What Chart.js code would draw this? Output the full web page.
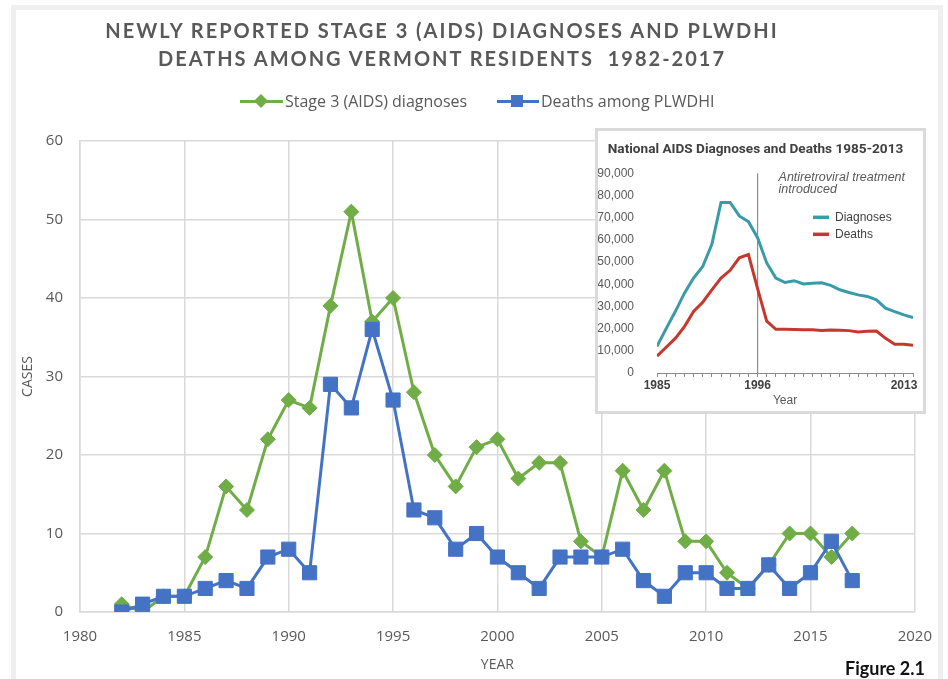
<!DOCTYPE html>
<html>
<head>
<meta charset="utf-8">
<script src="https://cdn.jsdelivr.net/npm/chart.js@4.4.1/dist/chart.umd.min.js"></script>
<style>
  html, body { margin: 0; padding: 0; background: #fff; }
  #wrap { position: relative; width: 948px; height: 679px; overflow: hidden; }
  #frame { position: absolute; left: 11px; top: 5px; width: 932px; height: 700px; border: 5px solid #efefef; box-sizing: border-box; }
  #mainChart { position: absolute; left: 0; top: 0; }
  #title { position: absolute; left: 0; top: 16px; width: 884px; text-align: center; font: 700 20px Lato, sans-serif; letter-spacing: 2px; line-height: 28px; color: #595959; white-space: pre; }
  .legLine { position: absolute; height: 3px; }
  .legText { position: absolute; top: 91px; font: 16px "Open Sans", sans-serif; line-height: 20px; color: #595959; white-space: nowrap; }
  #inset { position: absolute; left: 595px; top: 128px; width: 331px; height: 286px; border: 3px solid #dadada; box-sizing: border-box; background: #fff; }
  #insetChart { position: absolute; left: 0; top: 0; }
  #figure { position: absolute; left: 845px; top: 657px; font: 700 18px Lato, sans-serif; line-height: 22px; color: #111; }
</style>
</head>
<body>
<div id="wrap">
  <div id="frame"></div>
  <canvas id="mainChart" width="948" height="679"></canvas>
  <div id="title">NEWLY REPORTED STAGE 3 (AIDS) DIAGNOSES AND PLWDHI
DEATHS AMONG VERMONT RESIDENTS  1982-2017</div>

  <!-- légende du graphique principal -->
  <div class="legLine" style="left:240px; top:99.5px; width:43px; background:#70AD47"></div>
  <div style="position:absolute; left:256px; top:96px; width:10px; height:10px; background:#70AD47; transform:rotate(45deg)"></div>
  <div class="legText" style="left:285px">Stage 3 (AIDS) diagnoses</div>
  <div class="legLine" style="left:497px; top:99.5px; width:42px; background:#4472C4"></div>
  <div style="position:absolute; left:511px; top:95px; width:12px; height:12px; background:#4472C4"></div>
  <div class="legText" style="left:541px">Deaths among PLWDHI</div>

  <div id="inset"><canvas id="insetChart" width="325" height="280"></canvas></div>
  <div id="figure">Figure 2.1</div>
</div>

<script>
// Données Vermont 1982-2017
const years = [1982, 1983, 1984, 1985, 1986, 1987, 1988, 1989, 1990, 1991, 1992, 1993,
  1994, 1995, 1996, 1997, 1998, 1999, 2000, 2001, 2002, 2003, 2004, 2005,
  2006, 2007, 2008, 2009, 2010, 2011, 2012, 2013, 2014, 2015, 2016, 2017];
const stage3Diagnoses = [1, 0, 2, 2, 7, 16, 13, 22, 27, 26, 39, 51,
  37, 40, 28, 20, 16, 21, 22, 17, 19, 19, 9, 7,
  18, 13, 18, 9, 9, 5, 3, 6, 10, 10, 7, 10];
const deathsPlwdhi = [0, 1, 2, 2, 3, 4, 3, 7, 8, 5, 29, 26,
  36, 27, 13, 12, 8, 10, 7, 5, 3, 7, 7, 7,
  8, 4, 2, 5, 5, 3, 3, 6, 3, 5, 9, 4];
const yearTicks = [1980, 1985, 1990, 1995, 2000, 2005, 2010, 2015, 2020];
const caseTicks = [0, 10, 20, 30, 40, 50, 60];

// Données nationales (encart) 1985-2013
const nationalYears = [1985, 1986, 1987, 1988, 1989, 1990, 1991, 1992, 1993, 1994,
  1995, 1996, 1997, 1998, 1999, 2000, 2001, 2002, 2003, 2004,
  2005, 2006, 2007, 2008, 2009, 2010, 2011, 2012, 2013];
const nationalDiagnoses = [12000, 20000, 27700, 36000, 42800, 48000, 58000, 76900, 76900, 70800,
  68200, 61000, 49600, 42800, 40800, 41600, 40100, 40500, 40700, 39500,
  37500, 36300, 35200, 34500, 33000, 29200, 27700, 26200, 25000];
const nationalDeaths = [7600, 11600, 15600, 20900, 27700, 31900, 37500, 42800, 46300, 51900,
  53400, 38000, 23400, 19700, 19700, 19600, 19500, 19500, 19200, 19400,
  19300, 19100, 18500, 18800, 18900, 15600, 13000, 13000, 12500];
const nationalYearLabels = [1985, 1996, 2013];
const nationalTicks = [0, 10000, 20000, 30000, 40000, 50000, 60000, 70000, 80000, 90000];
const treatmentYear = 1996;

const grey = '#595959';
const gridColor = '#d9d9d9';

function toPoints(xs, ys) {
  return xs.map((x, i) => ({ x: x, y: ys[i] }));
}

// Graphique principal
new Chart(document.getElementById('mainChart'), {
  type: 'line',
  data: {
    datasets: [{
      label: 'Stage 3 (AIDS) diagnoses',
      data: toPoints(years, stage3Diagnoses),
      borderColor: '#70AD47',
      backgroundColor: '#70AD47',
      borderWidth: 3,
      pointStyle: 'rectRot',
      pointRadius: 7.5,
      pointBorderWidth: 1,
      order: 1
    }, {
      label: 'Deaths among PLWDHI',
      data: toPoints(years, deathsPlwdhi),
      borderColor: '#4472C4',
      backgroundColor: '#4472C4',
      borderWidth: 3,
      pointStyle: 'rect',
      pointRadius: 10,
      pointBorderWidth: 1,
      order: 0
    }]
  },
  options: {
    responsive: false,
    animation: false,
    devicePixelRatio: 1,
    layout: { padding: { top: 141, right: 33, bottom: 0, left: 0 }, autoPadding: false },
    plugins: { legend: { display: false }, tooltip: { enabled: false } },
    scales: {
      x: {
        type: 'linear', min: 1980, max: 2020,
        afterBuildTicks: s => { s.ticks = yearTicks.map(v => ({ value: v })); },
        afterFit: s => { s.height = 67; },
        grid: { color: gridColor, lineWidth: 1.5, drawTicks: false },
        border: { color: gridColor, width: 1.5 },
        ticks: { color: grey, font: { family: 'Open Sans', size: 15 }, padding: 16, maxRotation: 0, autoSkip: false, callback: v => String(v) },
        title: { display: true, text: 'YEAR', color: grey, font: { family: 'Open Sans', size: 14 }, padding: { top: 0, bottom: 6 } }
      },
      y: {
        min: 0, max: 60,
        afterBuildTicks: s => { s.ticks = caseTicks.map(v => ({ value: v })); },
        afterFit: s => { s.width = 80; },
        grid: { color: gridColor, lineWidth: 1.5, drawTicks: false },
        border: { color: gridColor, width: 1.5 },
        ticks: { color: grey, font: { family: 'Open Sans', size: 15 }, padding: 17, callback: v => String(v) },
        title: { display: true, text: 'CASES', color: grey, font: { family: 'Open Sans', size: 14 }, padding: { top: 20, bottom: 0 } }
      }
    }
  }
});

// Ligne verticale, annotation et légende de l'encart
const insetDecor = {
  id: 'insetDecor',
  beforeDatasetsDraw(chart) {
    const { ctx, scales: { x, y } } = chart;
    const xp = x.getPixelForValue(treatmentYear);
    ctx.save();
    ctx.strokeStyle = '#8c8c8c';
    ctx.lineWidth = 1.2;
    ctx.beginPath();
    ctx.moveTo(xp, y.getPixelForValue(90000));
    ctx.lineTo(xp, y.bottom);
    ctx.stroke();
    ctx.restore();
  },
  afterDatasetsDraw(chart) {
    const { ctx, chartArea, scales: { x } } = chart;
    const xp = x.getPixelForValue(treatmentYear);
    ctx.save();
    ctx.fillStyle = grey;
    ctx.textBaseline = 'middle';
    ctx.font = 'italic 12.5px "Liberation Sans"';
    ctx.fillText('Antiretroviral treatment', xp + 21, chartArea.top + 4);
    ctx.fillText('introduced', xp + 21, chartArea.top + 16);

    const items = [['Diagnoses', '#3A9BA8'], ['Deaths', '#C6372C']];
    ctx.font = '12px "Liberation Sans"';
    items.forEach((it, i) => {
      const ly = chartArea.top + 44 + i * 17;
      ctx.strokeStyle = it[1];
      ctx.lineWidth = 3.5;
      ctx.beginPath();
      ctx.moveTo(chartArea.left + 156, ly);
      ctx.lineTo(chartArea.left + 172, ly);
      ctx.stroke();
      ctx.fillStyle = '#404040';
      ctx.fillText(it[0], chartArea.left + 178, ly);
    });
    ctx.restore();
  }
};

new Chart(document.getElementById('insetChart'), {
  type: 'line',
  data: {
    datasets: [{
      label: 'Diagnoses',
      data: toPoints(nationalYears, nationalDiagnoses),
      borderColor: '#3A9BA8',
      borderWidth: 3,
      pointRadius: 0
    }, {
      label: 'Deaths',
      data: toPoints(nationalYears, nationalDeaths),
      borderColor: '#C6372C',
      borderWidth: 3,
      pointRadius: 0
    }]
  },
  plugins: [insetDecor],
  options: {
    responsive: false,
    animation: false,
    devicePixelRatio: 1,
    layout: { padding: { top: 0, right: 10, bottom: 0, left: 0 }, autoPadding: false },
    plugins: {
      legend: { display: false },
      tooltip: { enabled: false },
      title: {
        display: true,
        text: 'National AIDS Diagnoses and Deaths 1985-2013',
        color: '#404040',
        font: { family: 'Roboto', size: 13.6, weight: 'bold' },
        padding: { top: 10, bottom: 16 }
      }
    },
    scales: {
      x: {
        type: 'linear', min: 1985, max: 2013,
        afterBuildTicks: s => { s.ticks = nationalYears.map(v => ({ value: v })); },
        afterFit: s => { s.height = 38; s.paddingLeft = 0; s.paddingRight = 0; },
        grid: { drawOnChartArea: false, drawTicks: true, tickLength: 4, color: '#8c8c8c' },
        border: { color: '#8c8c8c', width: 1 },
        ticks: {
          autoSkip: false, maxRotation: 0, color: '#404040', padding: 1,
          font: { family: 'Liberation Sans', size: 12, weight: 'bold' },
          callback: v => {
            if (!nationalYearLabels.includes(v)) return '';
            // la dernière étiquette est décalée vers la gauche comme dans l'original
            return v === 2013 ? '2013\u2002\u2002\u2002' : String(v);
          }
        },
        title: { display: true, text: 'Year', color: grey, font: { family: 'Liberation Sans', size: 12 }, padding: { top: 0, bottom: 3 } }
      },
      y: {
        min: 0, max: 90000,
        afterBuildTicks: s => { s.ticks = nationalTicks.map(v => ({ value: v })); },
        afterFit: s => { s.width = 59; },
        grid: { display: false },
        border: { display: false },
        ticks: { color: grey, padding: 15, font: { family: 'Liberation Sans', size: 12 }, callback: v => v.toLocaleString('en-US') }
      }
    }
  }
});
</script>
</body>
</html>
